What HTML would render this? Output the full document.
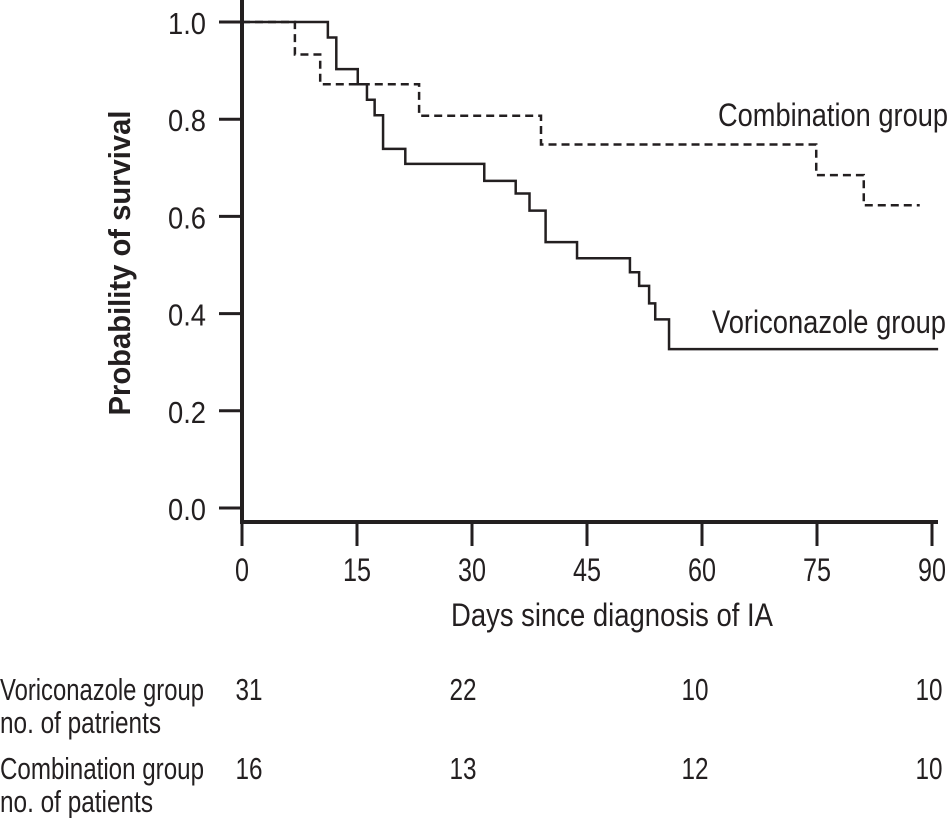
<!DOCTYPE html>
<html><head><meta charset="utf-8"><style>
html,body{margin:0;padding:0;background:#fff;}
svg{display:block;}
text{font-family:"Liberation Sans",sans-serif;fill:#231f20;}
</style></head><body>
<svg id="chart" width="950" height="818" viewBox="0 0 950 818" xmlns="http://www.w3.org/2000/svg">
<g id="axes"></g>
<g id="series"></g>
<text x="130" y="263" font-size="31" font-weight="bold" text-anchor="middle" textLength="305" lengthAdjust="spacingAndGlyphs" transform="rotate(-90 130 263)">Probability of survival</text>
<text x="451" y="626" font-size="32" textLength="322" lengthAdjust="spacingAndGlyphs">Days since diagnosis of IA</text>
<text x="718" y="126" font-size="32" textLength="230" lengthAdjust="spacingAndGlyphs">Combination group</text>
<text x="712" y="333" font-size="32" textLength="234" lengthAdjust="spacingAndGlyphs">Voriconazole group</text>
<g id="table"></g>
</svg>
<script>
const xTicks = [0, 15, 30, 45, 60, 75, 90];
const yTicks = [0.0, 0.2, 0.4, 0.6, 0.8, 1.0];
const vorTimes = [0, 11.2, 12.3, 15.1, 16.3, 17.3, 18.4, 21.3, 31.6, 35.7, 37.5, 39.6, 43.7, 50.6, 51.8, 53.1, 53.9, 55.7, 90.8];
const vorSurv  = [1.0, 0.968, 0.903, 0.872, 0.840, 0.808, 0.739, 0.708, 0.673, 0.647, 0.612, 0.547, 0.514, 0.485, 0.457, 0.421, 0.388, 0.327, 0.327];
const comTimes = [0, 6.9, 10.2, 23.1, 39.0, 74.9, 81.1, 88.4];
const comSurv  = [1.0, 0.933, 0.872, 0.807, 0.748, 0.685, 0.623, 0.623];
const vorRisk = [31, 22, 10, 10];
const comRisk = [16, 13, 12, 10];

const riskColX = [249, 463, 695, 929];
const NS = "http://www.w3.org/2000/svg";
const X = d => 242 + d * 690 / 90;
const Y = p => 508 - p * 486;
function mk(tag, attrs, parent, txt){
  const e = document.createElementNS(NS, tag);
  for (const k in attrs) e.setAttribute(k, attrs[k]);
  if (txt !== undefined) e.textContent = txt;
  parent.appendChild(e);
  return e;
}
const axes = document.getElementById('axes');
let e;
e = mk('line', {x1:242, y1:0, x2:242, y2:523, stroke:'#231f20', 'stroke-width':4}, axes);


e = mk('line', {x1:240, y1:522, x2:938, y2:522, stroke:'#231f20', 'stroke-width':4}, axes);


xTicks.forEach(t => {
  const tk = mk('line', {x1:X(t), y1:522, x2:X(t), y2:546, stroke:'#231f20', 'stroke-width':3}, axes);
  
  
  const s = String(t);
  const lb = mk('text', {x:X(t), y:581, 'font-size':32, 'text-anchor':'middle', textLength: s.length*14, lengthAdjust:'spacingAndGlyphs'}, axes, s);
  
  
});
yTicks.forEach(t => {
  const tk = mk('line', {x1:219, y1:Y(t), x2:242, y2:Y(t), stroke:'#231f20', 'stroke-width':3}, axes);
  
  
  const lb = mk('text', {x:206, y:Y(t)+12, 'font-size':31, 'text-anchor':'end', textLength:38, lengthAdjust:'spacingAndGlyphs'}, axes, t.toFixed(1));
  
  
});
function stepPath(ts, ss){
  let d = 'M' + X(ts[0]) + ' ' + Y(ss[0]);
  for (let i = 1; i < ts.length; i++){
    d += ' H' + X(ts[i]) + ' V' + Y(ss[i]);
  }
  return d;
}
const series = document.getElementById('series');
e = mk('path', {d:stepPath(vorTimes, vorSurv), fill:'none', stroke:'#231f20', 'stroke-width':2.5}, series);


e = mk('path', {d:stepPath(comTimes, comSurv), fill:'none', stroke:'#231f20', 'stroke-width':2.5, 'stroke-dasharray':'8 5'}, series);



const table = document.getElementById('table');
const rowLabels = [['Voriconazole group', 700, 'no. of patrients', 733], ['Combination group', 779, 'no. of patients', 812]];
const rowWidths = [[204, 161], [204, 153]];
[vorRisk, comRisk].forEach((row, r) => {
  const l1 = mk('text', {x:0, y:rowLabels[r][1], 'font-size':31, textLength:rowWidths[r][0], lengthAdjust:'spacingAndGlyphs'}, table, rowLabels[r][0]);
  
  
  const l2 = mk('text', {x:0, y:rowLabels[r][3], 'font-size':31, textLength:rowWidths[r][1], lengthAdjust:'spacingAndGlyphs'}, table, rowLabels[r][2]);
  
  
  row.forEach((v, i) => {
    const c = mk('text', {x:riskColX[i], y:rowLabels[r][1], 'font-size':31, 'text-anchor':'middle', textLength:27, lengthAdjust:'spacingAndGlyphs'}, table, String(v));
    
    
  });
});
</script>
</body></html>
